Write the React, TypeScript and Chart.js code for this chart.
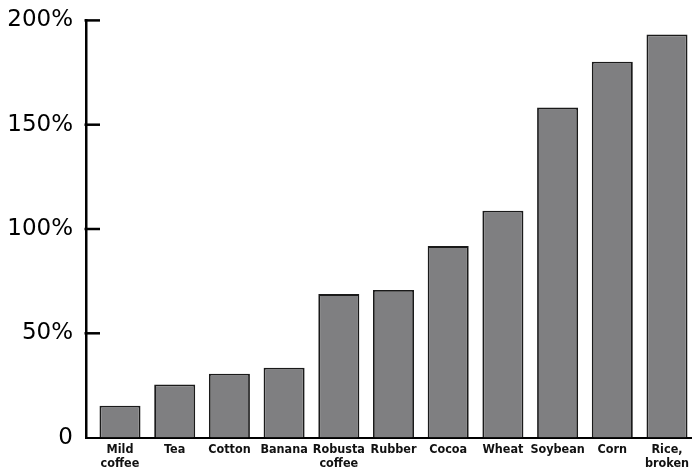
import React, { useEffect, useRef } from "react";
import { Chart, registerables } from "chart.js";

Chart.register(...registerables);

const categories: (string | string[])[] = [
  ["Mild", "coffee"],
  "Tea",
  "Cotton",
  "Banana",
  ["Robusta", "coffee"],
  "Rubber",
  "Cocoa",
  "Wheat",
  "Soybean",
  "Corn",
  ["Rice,", "broken"],
];

const values: number[] = [15.3, 25.5, 30.6, 33.5, 68.8, 70.8, 91.8, 108.8, 158.2, 180.2, 193.3];

const yTicks: number[] = [0, 50, 100, 150, 200];

const innerTicks = {
  id: "innerTicks",
  afterDraw(chart: any) {
    const { ctx, chartArea, scales } = chart;
    const y = scales.y;
    ctx.save();
    ctx.strokeStyle = "#000";
    ctx.lineWidth = 2.5;
    for (const v of yTicks) {
      if (v === 0) continue;
      const py = y.getPixelForValue(v);
      ctx.beginPath();
      ctx.moveTo(chartArea.left - 1.5, py);
      ctx.lineTo(chartArea.left + 14, py);
      ctx.stroke();
    }
    ctx.restore();
  },
};

export default function App() {
  const ref = useRef<HTMLCanvasElement | null>(null);

  useEffect(() => {
    document.body.style.margin = "0";
    const canvas = ref.current;
    if (!canvas) return;
    const chart = new Chart(canvas, {
      type: "bar",
      data: {
        datasets: [
          {
            data: values.map((v, i) => ({ x: i, y: v })),
            backgroundColor: "#7f7f81",
            borderColor: "#1a1a1a",
            borderWidth: 1.8,
            barPercentage: 0.75,
            categoryPercentage: 1,
          },
        ],
      },
      options: {
        animation: false,
        responsive: true,
        maintainAspectRatio: false,
        layout: { autoPadding: false, padding: { top: 20.4, right: 0, left: 0, bottom: 0 } },
        plugins: { legend: { display: false }, tooltip: { enabled: false } },
        scales: {
          x: {
            type: "linear",
            offset: false,
            min: -0.6216,
            max: 10.457,
            grid: { display: false, drawTicks: false, offset: false },
            border: { display: true, color: "#000", width: 2 },
            afterBuildTicks: (scale: any) => {
              scale.ticks = categories.map((_, i) => ({ value: i }));
            },
            afterFit: (scale: any) => {
              scale.height = 33.4;
              scale.paddingLeft = 0;
              scale.paddingRight = 0;
              scale.paddingTop = 0;
              scale.paddingBottom = 0;
            },
            ticks: {
              autoSkip: false,
              maxRotation: 0,
              padding: 6,
              color: "#111",
              font: { family: "'DejaVu Sans Condensed', 'DejaVu Sans'", size: 12.5, weight: "bold", lineHeight: 1.05 },
              callback: (value: any) => categories[value as number] ?? "",
            },
          },
          y: {
            min: 0,
            max: 200,
            grid: { display: false, drawTicks: false },
            border: { display: true, color: "#000", width: 2.5 },
            afterBuildTicks: (scale: any) => {
              scale.ticks = yTicks.map((v) => ({ value: v }));
            },
            afterFit: (scale: any) => {
              scale.width = 86;
              scale.paddingLeft = 0;
              scale.paddingRight = 0;
              scale.paddingTop = 0;
              scale.paddingBottom = 0;
            },
            ticks: {
              padding: 13,
              color: "#000",
              font: { family: "DejaVu Sans", size: 23 },
              callback: (value: any) => (value === 0 ? "0" : value + "%"),
            },
          },
        },
      },
      plugins: [innerTicks],
    });
    return () => chart.destroy();
  }, []);

  return (
    <div style={{ width: 692, height: 471, position: "relative", background: "#fff" }}>
      <canvas ref={ref} />
    </div>
  );
}
